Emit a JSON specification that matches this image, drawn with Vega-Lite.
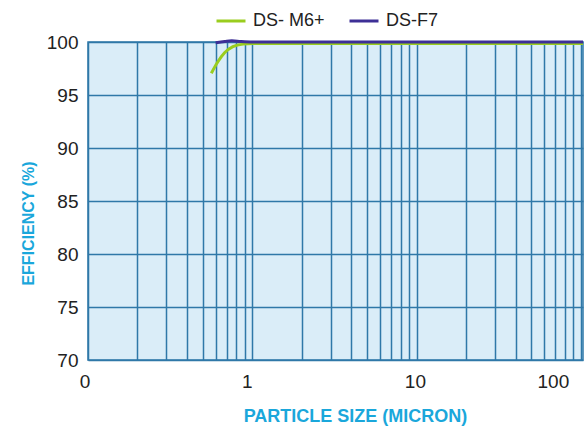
{
  "$schema": "https://vega.github.io/schema/vega-lite/v6.json",
  "width": 495,
  "height": 318,
  "autosize": {"type": "none"},
  "padding": {"left": 88, "top": 42, "right": 2, "bottom": 67},
  "background": "white",
  "config": {
    "font": "Liberation Sans",
    "view": {"fill": "#DAEDF8", "stroke": "#2F78A8", "strokeWidth": 1.5}
  },
  "data": {
    "values": [
      {"series": "DS- M6+", "size": 0.563, "eff": 97.05},
      {"series": "DS- M6+", "size": 0.617, "eff": 98.14},
      {"series": "DS- M6+", "size": 0.678, "eff": 98.99},
      {"series": "DS- M6+", "size": 0.762, "eff": 99.56},
      {"series": "DS- M6+", "size": 0.877, "eff": 99.8},
      {"series": "DS- M6+", "size": 1.008, "eff": 99.85},
      {"series": "DS- M6+", "size": 103, "eff": 99.85},
      {"series": "DS-F7", "size": 0.598, "eff": 99.93},
      {"series": "DS-F7", "size": 0.68, "eff": 100.05},
      {"series": "DS-F7", "size": 0.75, "eff": 100.12},
      {"series": "DS-F7", "size": 0.85, "eff": 100.05},
      {"series": "DS-F7", "size": 1.0, "eff": 100.0},
      {"series": "DS-F7", "size": 103, "eff": 100.0}
    ]
  },
  "mark": {"type": "line", "strokeWidth": 3, "clip": false, "interpolate": "monotone"},
  "encoding": {
    "x": {
      "field": "size",
      "type": "quantitative",
      "scale": {"type": "log", "domain": [0.1, 103], "nice": false},
      "axis": {
        "title": "PARTICLE SIZE (MICRON)",
        "titleFont": "Liberation Sans",
        "titleFontSize": 18,
        "titleFontWeight": "bold",
        "titleColor": "#1AA7DB",
        "titlePadding": 16,
        "titleX": 267,
        "values": [0.1, 0.2, 0.3, 0.4, 0.5, 0.6, 0.7, 0.8, 0.9, 1, 2, 3, 4, 5, 6, 7, 8, 9, 10, 20, 30, 40, 50, 60, 70, 80, 90, 100],
        "labelExpr": "datum.value == 0.1 ? '0' : datum.value == 1 ? '1' : datum.value == 10 ? '10' : datum.value == 100 ? '100' : ''",
        "labelFontSize": 19,
        "labelColor": "#222222",
        "labelPadding": 12,
        "labelOverlap": false,
        "labelFlush": false,
        "labelBound": false,
        "labelOffset": {
          "condition": [
            {"test": "datum.value == 100", "value": -28},
            {"test": "datum.value == 1", "value": -5.5},
            {"test": "datum.value == 0.1", "value": -3.5}
          ],
          "value": -1.7
        },
        "ticks": false,
        "domain": false,
        "grid": true,
        "gridColor": "#2F78A8",
        "gridWidth": 1.5,
        "gridOpacity": 1
      }
    },
    "y": {
      "field": "eff",
      "type": "quantitative",
      "scale": {"domain": [70, 100], "nice": false, "zero": false},
      "axis": {
        "title": "EFFICIENCY (%)",
        "titleFont": "Liberation Sans",
        "titleFontSize": 16,
        "titleFontWeight": "bold",
        "titleColor": "#1AA7DB",
        "titlePadding": 10,
        "titleY": 181,
        "values": [70, 75, 80, 85, 90, 95, 100],
        "labelFontSize": 19,
        "labelColor": "#222222",
        "labelPadding": 10,
        "ticks": false,
        "domain": false,
        "grid": true,
        "gridColor": "#2F78A8",
        "gridWidth": 1.5,
        "gridOpacity": 1
      }
    },
    "color": {
      "field": "series",
      "type": "nominal",
      "scale": {"domain": ["DS- M6+", "DS-F7"], "range": ["#9ACD1E", "#3D2F96"]},
      "legend": {
        "title": null,
        "orient": "none",
        "direction": "horizontal",
        "legendX": 127,
        "legendY": -37,
        "symbolType": "stroke",
        "symbolSize": 841,
        "symbolStrokeWidth": 3,
        "labelFontSize": 18,
        "labelColor": "#222222",
        "labelOffset": 6,
        "columnPadding": 18,
        "padding": 0
      }
    }
  }
}
